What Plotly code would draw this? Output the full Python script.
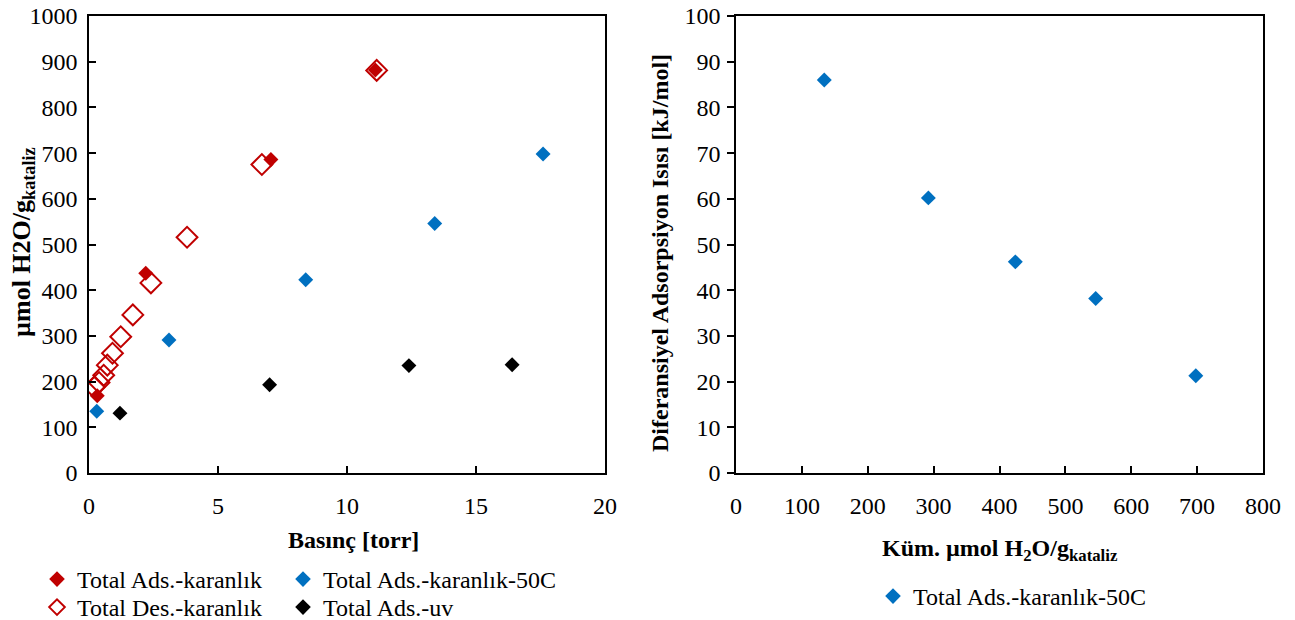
import plotly.graph_objects as go

# ---- data ----
ads_dark_p = [0.32, 2.2, 7.05, 11.1]
ads_dark_q = [169, 437, 686, 882]

des_dark_p = [11.15, 6.7, 3.8, 2.4, 1.7, 1.23, 0.91, 0.71, 0.57, 0.39, 0.2]
des_dark_q = [881, 675, 516, 416, 346, 298, 262, 236, 214, 198, 188]

ads_50c_p = [0.3, 3.1, 8.4, 13.4, 17.6]
ads_50c_q = [135, 291, 423, 546, 698]

ads_uv_p = [1.2, 7.0, 12.4, 16.4]
ads_uv_q = [131, 193, 235, 237]

cum_q = [134, 292, 424, 546, 698]
heat = [86, 60.2, 46.2, 38.2, 21.3]

RED = "#C00000"
BLUE = "#0070C0"
BLACK = "#000000"
FONT = "Liberation Serif, Times New Roman, serif"

# body margin is removed by post_script, so figure pixels == page pixels
W, H = 1295, 620


def px(xs):
    return xs / W


def py(ys):
    return (H - ys) / H


fig = go.Figure()

fig.add_trace(go.Scatter(x=des_dark_p, y=des_dark_q, mode="markers", name="Total Des.-karanlık",
                         marker=dict(symbol="diamond-open", size=16, color=RED, line=dict(width=2, color=RED)),
                         xaxis="x", yaxis="y", legend="legend2"))
fig.add_trace(go.Scatter(x=ads_dark_p, y=ads_dark_q, mode="markers", name="Total Ads.-karanlık",
                         marker=dict(symbol="diamond", size=11.5, color=RED),
                         xaxis="x", yaxis="y", legend="legend"))
fig.add_trace(go.Scatter(x=ads_50c_p, y=ads_50c_q, mode="markers", name="Total Ads.-karanlık-50C",
                         marker=dict(symbol="diamond", size=11.5, color=BLUE),
                         xaxis="x", yaxis="y", legend="legend3"))
fig.add_trace(go.Scatter(x=ads_uv_p, y=ads_uv_q, mode="markers", name="Total Ads.-uv",
                         marker=dict(symbol="diamond", size=11.5, color=BLACK),
                         xaxis="x", yaxis="y", legend="legend4"))

fig.add_trace(go.Scatter(x=cum_q, y=heat, mode="markers", name="Total Ads.-karanlık-50C",
                         marker=dict(symbol="diamond", size=11.5, color=BLUE),
                         xaxis="x2", yaxis="y2", legend="legend5"))

ydom = [py(473), py(16)]
axis_common = dict(showline=True, linecolor="black", linewidth=1.5, mirror=True,
                   showgrid=False, zeroline=False, ticklen=7, tickwidth=1.5, tickcolor="black",
                   automargin=False, ticklabeloverflow="allow",
                   tickfont=dict(family=FONT, size=24, color="black"))

leg_font = dict(family=FONT, size=24, color="black")


def leg(x_ref, row_center_ref, orient="v"):
    return dict(orientation=orient, x=px(x_ref), xanchor="left", y=py(row_center_ref - 23), yanchor="top",
                font=leg_font, bgcolor="rgba(0,0,0,0)", itemwidth=30, itemsizing="constant")


fig.update_layout(
    width=W, height=H,
    margin=dict(l=0, r=0, t=0, b=0, autoexpand=False),
    paper_bgcolor="white", plot_bgcolor="white",
    font=dict(family=FONT, color="black"),
    xaxis=dict(domain=[px(89), px(605)], range=[0, 20], dtick=5, ticks="inside",
               ticklabelstandoff=10, anchor="y", **axis_common),
    yaxis=dict(domain=ydom, range=[0, 1000], dtick=100, ticks="inside",
               ticklabelstandoff=5, anchor="x", **axis_common),
    xaxis2=dict(domain=[px(736), px(1263)], range=[0, 800], dtick=100, ticks="inside",
                ticklabelstandoff=10, anchor="y2", **axis_common),
    yaxis2=dict(domain=ydom, range=[0, 100], dtick=10, ticks="outside",
                ticklabelstandoff=2, anchor="x2", **axis_common),
    legend=leg(37, 580),
    legend2=leg(37, 608),
    legend3=leg(283, 580),
    legend4=leg(283, 608),
    legend5=leg(873, 597, "h"),
    showlegend=True,
)

ann_font = dict(family=FONT, size=24, color="black")
fig.add_annotation(text="<b>Basınç [torr]</b>", x=px(354), y=py(540), xref="paper", yref="paper",
                   showarrow=False, font=ann_font, xanchor="center", yanchor="middle")
fig.add_annotation(text="<b>µmol H2O/g<sub>kataliz</sub></b>", x=px(23), y=py(242),
                   xref="paper", yref="paper", showarrow=False, font=dict(family=FONT, size=26, color="black"),
                   textangle=-90, xanchor="center", yanchor="middle")
fig.add_annotation(text="<b>Küm. µmol H<sub>2</sub>O/g<sub>kataliz</sub></b>", x=px(1000), y=py(550),
                   xref="paper", yref="paper", showarrow=False, font=ann_font,
                   xanchor="center", yanchor="middle")
fig.add_annotation(text="<b>Diferansiyel Adsorpsiyon Isısı [kJ/mol]</b>", x=px(660), y=py(253),
                   xref="paper", yref="paper", showarrow=False, font=ann_font, textangle=-90,
                   xanchor="center", yanchor="middle")

fig.write_html("out.html", config={"displayModeBar": False},
               post_script="document.body.style.margin='0';document.body.style.overflow='hidden';")
